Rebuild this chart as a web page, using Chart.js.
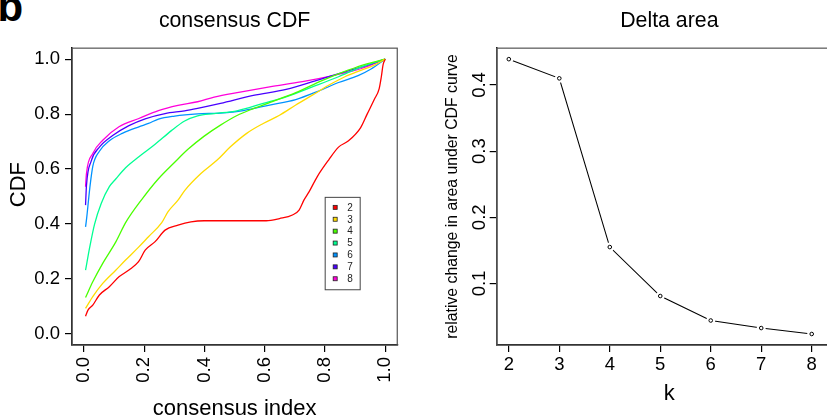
<!DOCTYPE html>
<html>
<head>
<meta charset="utf-8">
<script src="https://cdn.jsdelivr.net/npm/chart.js@4.4.0/dist/chart.umd.min.js"></script>
<style>
  html, body { margin: 0; padding: 0; background: #fff; overflow: hidden; }
  body { width: 827px; height: 418px; position: relative; }
  #cdfBox { position: absolute; left: 0; top: 0; width: 413px; height: 418px; }
  #deltaBox { position: absolute; left: 413px; top: 0; width: 434px; height: 418px; }
  #panelTag { position: absolute; left: -2.5px; top: -14px; font: bold 42px 'Liberation Sans', Arial, sans-serif; line-height: 42px; color: #000; }
</style>
</head>
<body>
<div id="panelTag">b</div>
<div id="cdfBox"><canvas id="cdf" width="413" height="418"></canvas></div>
<div id="deltaBox"><canvas id="delta" width="434" height="418"></canvas></div>
<script>
// consensus CDF curves, one per k : [consensus index, CDF]
const cdfK = ['2', '3', '4', '5', '6', '7', '8']
const cdfColors = ['#FF0000', '#FFDB00', '#49FF00', '#00FF92', '#0092FF', '#4900FF', '#FF00DB']

const cdf2 = [[0.005,0.065],[0.013,0.087],[0.029,0.105],[0.051,0.142],[0.084,0.172],[0.116,0.208],[0.149,0.233],
  [0.181,0.263],[0.203,0.305],[0.236,0.336],[0.269,0.378],[0.312,0.396],[0.355,0.408],[0.399,0.412],[0.5,0.412],
  [0.605,0.412],[0.649,0.42],[0.692,0.433],[0.714,0.451],[0.730,0.487],[0.747,0.517],[0.774,0.572],[0.812,0.633],
  [0.845,0.68],[0.877,0.702],[0.918,0.75],[0.940,0.80],[0.964,0.854],[0.980,0.893],[0.987,0.935],[0.993,0.98],[1.0,1.0]]
const cdf3 = [[0.005,0.093],[0.029,0.136],[0.062,0.184],[0.106,0.233],[0.138,0.269],[0.182,0.317],[0.214,0.354],
  [0.258,0.405],[0.279,0.445],[0.312,0.487],[0.334,0.522],[0.388,0.584],[0.442,0.633],[0.486,0.681],[0.540,0.730],
  [0.595,0.766],[0.649,0.796],[0.703,0.833],[0.758,0.869],[0.812,0.905],[0.866,0.936],[0.921,0.96],[0.964,0.978],[1.0,1.0]]
const cdf4 = [[0.005,0.133],[0.029,0.19],[0.062,0.257],[0.106,0.336],[0.138,0.405],[0.192,0.49],[0.247,0.565],
  [0.301,0.625],[0.345,0.672],[0.399,0.72],[0.453,0.76],[0.508,0.795],[0.562,0.82],[0.616,0.842],[0.703,0.878],
  [0.79,0.922],[0.877,0.96],[0.942,0.984],[1.0,1.0]]
const cdf5 = [[0.005,0.232],[0.019,0.317],[0.035,0.40],[0.057,0.475],[0.084,0.536],[0.106,0.565],[0.138,0.605],
  [0.182,0.645],[0.236,0.69],[0.29,0.74],[0.334,0.775],[0.377,0.794],[0.432,0.802],[0.508,0.812],[0.595,0.839],
  [0.671,0.863],[0.758,0.899],[0.845,0.936],[0.921,0.972],[1.0,1.0]]
const cdf6 = [[0.005,0.39],[0.008,0.415],[0.019,0.53],[0.029,0.61],[0.051,0.665],[0.084,0.703],[0.127,0.73],
  [0.182,0.754],[0.214,0.766],[0.247,0.782],[0.301,0.793],[0.377,0.801],[0.453,0.804],[0.529,0.813],[0.616,0.833],
  [0.703,0.853],[0.779,0.884],[0.845,0.915],[0.910,0.94],[0.953,0.964],[1.0,1.0]]
const cdf7 = [[0.005,0.469],[0.008,0.54],[0.024,0.63],[0.051,0.68],[0.095,0.722],[0.149,0.758],[0.203,0.783],
  [0.269,0.802],[0.334,0.812],[0.377,0.821],[0.453,0.839],[0.562,0.868],[0.671,0.89],[0.779,0.925],[0.866,0.954],
  [0.942,0.978],[1.0,1.0]]
const cdf8 = [[0.005,0.536],[0.008,0.584],[0.029,0.657],[0.062,0.705],[0.116,0.754],[0.182,0.784],[0.247,0.813],
  [0.312,0.832],[0.377,0.845],[0.432,0.862],[0.518,0.88],[0.616,0.899],[0.725,0.918],[0.834,0.942],[0.921,0.966],[1.0,1.0]]
const cdfSeries = [cdf2, cdf3, cdf4, cdf5, cdf6, cdf7, cdf8]
const cdfTicks = [0, 0.2, 0.4, 0.6, 0.8, 1.0]

// delta area panel
const deltaK = [2, 3, 4, 5, 6, 7, 8]
const deltaArea = [0.439, 0.410, 0.155, 0.081, 0.044, 0.0326, 0.0236]
const deltaYTicks = [0.1, 0.2, 0.3, 0.4]

const FONT = "'Liberation Sans', Arial, Helvetica, sans-serif"
Chart.defaults.font.family = FONT
Chart.defaults.color = '#000'

// R style box round the plot region
const boxFrame = {
  id: 'boxFrame',
  beforeDatasetsDraw(chart, args, opts) {
    const {ctx, chartArea: a} = chart
    ctx.save()
    ctx.strokeStyle = opts.color
    ctx.lineWidth = opts.width
    ctx.strokeRect(a.left, a.top, a.right - a.left, a.bottom - a.top)
    ctx.restore()
  }
}

// y axis label, sits a little above the middle of the plot like in the original
const sideLabel = {
  id: 'sideLabel',
  afterDraw(chart, args, o) {
    const {ctx, chartArea: a} = chart
    ctx.save()
    ctx.translate(o.x, (a.top + a.bottom) / 2 + o.dy)
    ctx.rotate(-Math.PI / 2)
    ctx.font = o.size + 'px ' + FONT
    ctx.fillStyle = '#000'
    ctx.textAlign = 'center'
    ctx.textBaseline = 'middle'
    ctx.fillText(o.text, 0, 0)
    ctx.restore()
  }
}

// legend drawn as a small boxed key inside the plot
const keyBox = {
  id: 'keyBox',
  afterDatasetsDraw(chart, args, o) {
    const {ctx, scales} = chart
    const sets = chart.data.datasets
    const left = scales.x.getPixelForValue(o.x)
    const top = scales.y.getPixelForValue(o.y)
    const h = o.pad * 2 + o.step * (sets.length - 1)
    ctx.save()
    ctx.fillStyle = '#fff'
    ctx.fillRect(left, top, o.w, h)
    ctx.strokeStyle = '#444'
    ctx.lineWidth = 1
    ctx.strokeRect(left + 0.5, top + 0.5, o.w, h)
    ctx.font = o.size + 'px ' + FONT
    ctx.textBaseline = 'middle'
    ctx.textAlign = 'left'
    sets.forEach((ds, i) => {
      const cy = top + o.pad + i * o.step
      ctx.fillStyle = ds.borderColor
      ctx.fillRect(left + 8.5, cy - 2, 4, 4)
      ctx.strokeStyle = '#222'
      ctx.lineWidth = 0.8
      ctx.strokeRect(left + 8.5, cy - 2, 4, 4)
      ctx.fillStyle = '#222'
      ctx.fillText(ds.label, left + 22.5, cy + 0.5)
    })
    ctx.restore()
  }
}

const tickGrid = {display: true, drawOnChartArea: false, drawTicks: true, tickLength: 7, tickColor: '#000', lineWidth: 1.2}
const axisBorder = {display: true, color: '#000', width: 1.5}

const cdfData = {
  datasets: cdfSeries.map((s, i) => ({
    label: cdfK[i],
    data: s.map(p => ({x: p[0], y: p[1]})),
    borderColor: cdfColors[i],
    borderWidth: 1.3,
    pointRadius: 0,
    cubicInterpolationMode: 'monotone',
    fill: false
  }))
}

const cdfChart = new Chart(document.getElementById('cdf'), {
  type: 'line',
  data: cdfData,
  plugins: [boxFrame, keyBox, sideLabel],
  options: {
    responsive: false,
    animation: false,
    layout: {padding: {left: 0, right: 10, top: 0, bottom: 0}},
    plugins: {
      legend: {display: false},
      tooltip: {enabled: false},
      title: {display: true, text: 'consensus CDF', fullSize: false, color: '#000',
        font: {size: 21.3, weight: 'normal'}, padding: {top: 8, bottom: 14.6}},
      boxFrame: {color: '#555', width: 1.2},
      keyBox: {x: 0.799, y: 0.499, w: 35, pad: 10.5, step: 11.9, size: 10},
      sideLabel: {text: 'CDF', x: 18.5, dy: -12, size: 22}
    },
    scales: {
      x: {
        type: 'linear', min: -0.04, max: 1.04,
        afterBuildTicks: s => { s.ticks = cdfTicks.map(v => ({value: v})) },
        afterFit: s => { s.height = 73 },
        grid: tickGrid, border: axisBorder,
        ticks: {font: {size: 18.5}, color: '#000', minRotation: 90, maxRotation: 90, padding: 5,
          callback: v => v.toFixed(1)},
        title: {display: true, text: 'consensus index', color: '#000',
          font: {size: 22, lineHeight: 0.8}, padding: {top: 0, bottom: 0}}
      },
      y: {
        type: 'linear', min: -0.04, max: 1.04,
        afterBuildTicks: s => { s.ticks = cdfTicks.map(v => ({value: v})) },
        afterFit: s => { s.width = 72 },
        grid: tickGrid, border: axisBorder,
        ticks: {font: {size: 18.5}, color: '#000', padding: 5, callback: v => v.toFixed(1)},
        title: {display: false}
      }
    }
  }
})

const deltaPts = deltaK.map((k, i) => ({x: k, y: deltaArea[i]}))
const dLo = Math.min(...deltaArea), dHi = Math.max(...deltaArea)
const dPad = (dHi - dLo) * 0.04

const deltaChart = new Chart(document.getElementById('delta'), {
  type: 'line',
  data: {
    datasets: [
      // small open circles on top
      {label: 'points', data: deltaPts, showLine: false, pointRadius: 1.8, pointBorderWidth: 1,
        pointBorderColor: '#000', pointBackgroundColor: '#fff', order: 0},
      // white gap round each point, like type = "b"
      {label: 'gap', data: deltaPts, showLine: false, pointRadius: 4.5, pointBorderWidth: 0,
        pointBackgroundColor: '#fff', order: 1},
      {label: 'line', data: deltaPts, borderColor: '#000', borderWidth: 1.1, pointRadius: 0,
        tension: 0, order: 2}
    ]
  },
  plugins: [boxFrame],
  options: {
    responsive: false,
    animation: false,
    layout: {padding: 0},
    plugins: {
      legend: {display: false},
      tooltip: {enabled: false},
      title: {display: true, text: 'Delta area', fullSize: false, color: '#000',
        font: {size: 21.3, weight: 'normal'}, padding: {top: 8, bottom: 14.6}},
      boxFrame: {color: '#555', width: 1.2}
    },
    scales: {
      x: {
        type: 'linear', min: 1.76, max: 8.6,
        afterBuildTicks: s => { s.ticks = deltaK.map(v => ({value: v})) },
        afterFit: s => { s.height = 73 },
        grid: tickGrid, border: axisBorder,
        ticks: {font: {size: 18.5}, color: '#000', maxRotation: 0, padding: 2},
        title: {display: true, text: 'k', color: '#000',
          font: {size: 22, lineHeight: 1.2}, padding: {top: 0, bottom: 11}}
      },
      y: {
        type: 'linear', min: dLo - dPad, max: dHi + dPad,
        afterBuildTicks: s => { s.ticks = deltaYTicks.map(v => ({value: v})) },
        afterFit: s => { s.width = 83.7 },
        grid: tickGrid, border: axisBorder,
        ticks: {font: {size: 18.5}, color: '#000', minRotation: 90, maxRotation: 90,
          crossAlign: 'center', padding: -3, callback: v => v.toFixed(1)},
        title: {display: true, text: 'relative change in area under CDF curve', color: '#000',
          font: {size: 15.8, lineHeight: 1.2}, padding: {top: 30.5, bottom: 0}}
      }
    }
  }
})
</script>
</body>
</html>
